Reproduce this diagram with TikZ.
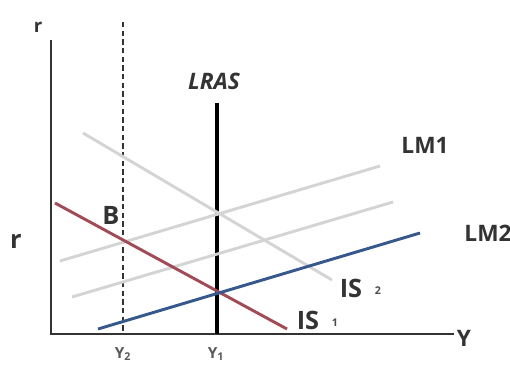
\documentclass[tikz,border=0pt]{standalone}
\usepackage{fontspec}
\setmainfont{Open Sans}
\begin{document}
\begin{tikzpicture}[x=0.75pt,y=-0.75pt,
  axisline/.style={line width=1.5pt,black!80},
  curve/.style={line width=2.2pt},
  oldcurve/.style={line width=2.2pt,black!17},
  lbl/.style={font=\bfseries\fontsize{17}{17}\selectfont,text=black!80,inner sep=0pt},
  biglbl/.style={font=\bfseries\fontsize{19}{19}\selectfont,text=black!80,inner sep=0pt},
  sub/.style={font=\bfseries\fontsize{8}{8}\selectfont,text=black!70,inner sep=0pt}]

  \definecolor{isred}{RGB}{160,75,85}
  \definecolor{lmblue}{RGB}{55,88,140}
  \useasboundingbox (0,0) rectangle (510,365);

  %% ---- Axes ----
  \coordinate (origin) at (51,334);
  \coordinate (rtop) at (51,40);
  \coordinate (yend) at (454,334);
  \draw[axisline] (rtop) -- (origin) -- (yend);
  \node[font=\bfseries\fontsize{14}{14}\selectfont,text=black!80] (rlbl) at (38,27) {r};
  \node[font=\bfseries\fontsize{19}{19}\selectfont,text=black!80] (rprime) at (16,241) {r};
  \node[biglbl,font=\bfseries\fontsize{17}{17}\selectfont] (ylbl) at (464,338) {Y};

  % Output levels on the axis
  \node[font=\bfseries\fontsize{11.5}{11.5}\selectfont,text=black!65] (y2lbl) at (123,354) {Y\textsubscript{2}};
  \node[font=\bfseries\fontsize{11.5}{11.5}\selectfont,text=black!65] (y1lbl) at (216,354) {Y\textsubscript{1}};

  %% ---- Dashed short-run output and LRAS ----
  \coordinate (dtop) at (123,22);
  \coordinate (dbot) at (123,333);
  \draw[line width=1.1pt,black!80,dash pattern=on 4pt off 2.5pt] (dtop) -- (dbot);

  \coordinate (lrastop) at (217,103);
  \coordinate (lrasbot) at (217,334);
  \draw[line width=3.4pt,black] (lrastop) -- (lrasbot);
  \node[font=\bfseries\itshape\fontsize{17}{17}\selectfont,text=black!80] (lraslbl) at (214,81) {LRAS};

  %% ---- Original curves (faded) ----
  \coordinate (is2a) at (83,133);
  \coordinate (is2b) at (332,280);
  \draw[oldcurve] (is2a) -- (is2b);
  \coordinate (lm1a) at (60,261);
  \coordinate (lm1b) at (380,166);
  \draw[oldcurve] (lm1a) -- (lm1b);
  \coordinate (lmga) at (72,297);
  \coordinate (lmgb) at (393,202);
  \draw[oldcurve] (lmga) -- (lmgb);

  %% ---- New curves ----
  \coordinate (is1a) at (55,203);
  \coordinate (is1b) at (287,329);
  \draw[curve,isred] (is1a) -- (is1b);
  \coordinate (lm2a) at (98,329);
  \coordinate (lm2b) at (420,233);
  \draw[curve,lmblue] (lm2a) -- (lm2b);

  %% ---- Curve labels ----
  \node[lbl] (lm1lbl) at (425,145) {LM1};
  \node[lbl] (lm2lbl) at (488,233) {LM2};
  \node[biglbl] (is2lbl) at (351,288) {IS};
  \node[sub] (is2sub) at (378,291) {2};
  \node[biglbl] (is1lbl) at (308,320) {IS};
  \node[sub] (is1sub) at (335,323) {1};
  \node[biglbl] (blbl) at (111,215) {B};

\end{tikzpicture}
\end{document}
